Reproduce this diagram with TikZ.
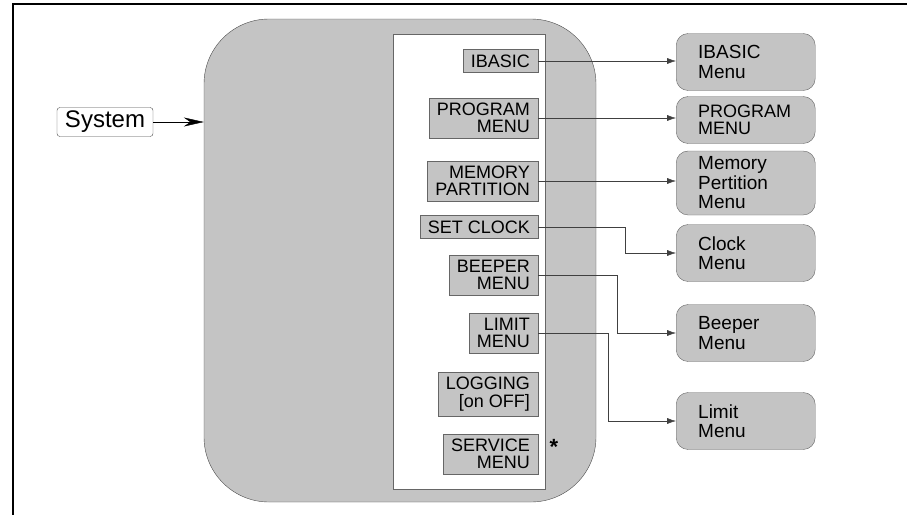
\documentclass[tikz,border=0pt]{standalone}
\usepackage{fontspec}
\setmainfont{Liberation Sans}
\usetikzlibrary{arrows.meta}

\begin{document}
\begin{tikzpicture}[x=1pt, y=-1pt,
    key/.style={draw=black!60, fill=black!23, align=right, anchor=east, inner xsep=8pt, inner ysep=5pt, font=\fontsize{18}{17.5}\selectfont},
    menu/.style={draw=black!60, fill=black!23, rounded corners=12pt, align=left, text width=95pt, inner xsep=22pt, inner ysep=2pt, minimum height=57pt, anchor=west, font=\fontsize{19}{19.5}\selectfont},
    link/.style={draw=black!75, -{Latex[length=9pt,width=6pt]}}]
                \clip (0,0) rectangle (907,514);
                \draw[line width=2pt] (12.5,3.5) rectangle (940,540);
                \node[draw=black!70, fill=black!23, rounded corners=65pt, inner sep=0pt, minimum width=392pt, minimum height=483pt] (sysbox) at (400,260.5) {};
                \node[draw=black!60, fill=white, inner sep=0pt, minimum width=152pt, minimum height=455pt] (panel) at (469,261.5) {};
                \node[draw=black!70, rounded corners=3pt, inner xsep=8pt, inner ysep=3pt, minimum height=29pt, font=\fontsize{24}{24}\selectfont] (system) at (105,122) {System};
                \draw[-{Stealth[length=20pt,width=9pt]}] (system.east) -- (system.east -| sysbox.west);
                \node[key] (ibasic) at (538,61) {IBASIC};
                \node[key] (prog) at (538,118) {PROGRAM\\MENU};
                \node[key] (mem) at (538,181) {MEMORY\\PARTITION};
                \node[key] (clock) at (538,227) {SET CLOCK};
                \node[key] (beep) at (538,275) {BEEPER\\MENU};
                \node[key] (limit) at (538,333) {LIMIT\\MENU};
                \node[key] (logging) at (538,394) {LOGGING\\{[on OFF]}};
                \node[key] (service) at (538,454) {SERVICE\\MENU};
                \node[font=\fontsize{22}{22}\selectfont\bfseries] (star) at (554,447) {*};
                \node[menu] (ibasicm) at (676,62) {IBASIC\\Menu};
                \node[menu, minimum height=47pt, font=\fontsize{18}{17.5}\selectfont] (progm) at (676,120) {PROGRAM\\MENU};
                \node[menu, minimum height=64pt] (memm) at (676,183) {Memory\\Pertition\\Menu};
                \node[menu] (clockm) at (676,253) {Clock\\Menu};
                \node[menu] (beepm) at (676,333) {Beeper\\Menu};
                \node[menu] (limitm) at (676,421) {Limit\\Menu};
                \draw[link] (ibasic.east) -- (ibasic.east -| ibasicm.west);
                \draw[link] (prog.east) -- (prog.east -| progm.west);
                \draw[link] (mem.east) -- (mem.east -| memm.west);
                \draw[link] (clock.east) -- ++(87,0) |- (clockm.west);
                \draw[link] (beep.east) -- ++(79,0) |- (beepm.west);
                \draw[link] (limit.east) -- ++(70,0) |- (limitm.west);
            \end{tikzpicture}
\end{document}
